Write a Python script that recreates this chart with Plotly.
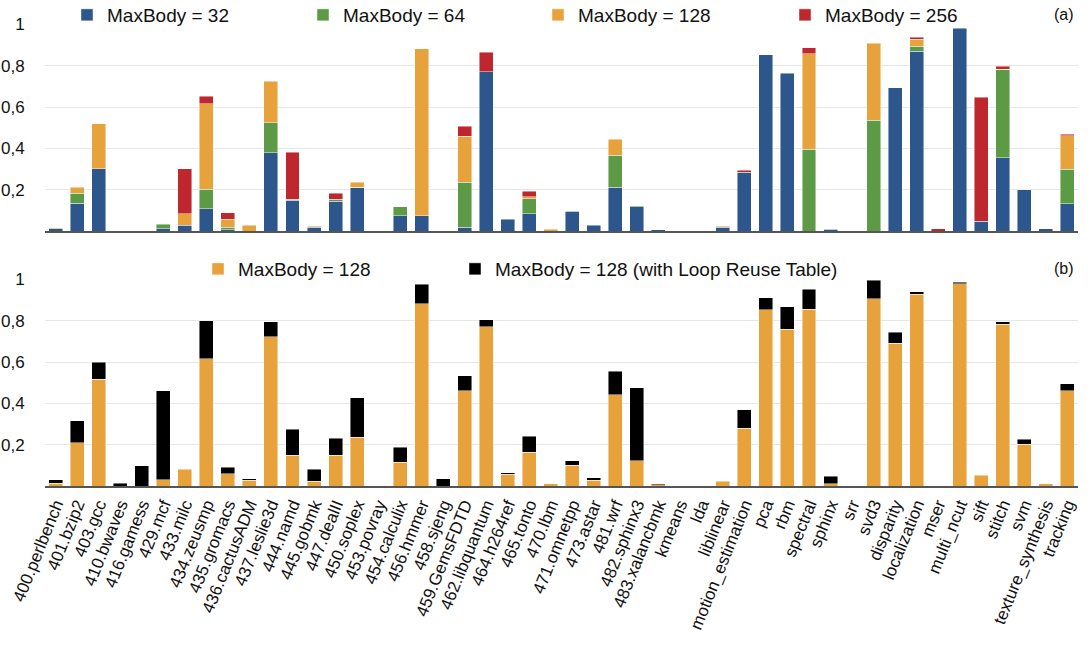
import plotly.graph_objects as go

categories = ["400.perlbench","401.bzip2","403.gcc","410.bwaves","416.gamess","429.mcf","433.milc",
              "434.zeusmp","435.gromacs","436.cactusADM","437.leslie3d","444.namd","445.gobmk",
              "447.dealII","450.soplex","453.povray","454.calculix","456.hmmer","458.sjeng",
              "459.GemsFDTD","462.libquantum","464.h264ref","465.tonto","470.lbm","471.omnetpp",
              "473.astar","481.wrf","482.sphinx3","483.xalancbmk","kmeans","lda","liblinear",
              "motion_estimation","pca","rbm","spectral","sphinx","srr","svd3","disparity",
              "localization","mser","multi_ncut","sift","stitch","svm","texture_synthesis","tracking"]

# Panel (a): stacked increments
maxbody_32 = [0.010,0.135,0.301,0,0,0.010,0.027,0.108,0.005,0,0.378,0.150,0.019,0.145,0.209,0,
              0.074,0.074,0,0.019,0.771,0.058,0.084,0,0.095,0.027,0.213,0.118,0.006,0,0,0.018,
              0.285,0.853,0.763,0,0.008,0,0,0.694,0.870,0,0.981,0.048,0.354,0.200,0.010,0.132]
maxbody_64 = [0,0.047,0,0,0,0.022,0,0.095,0.014,0,0.145,0.003,0,0.008,0.004,0,
              0.044,0,0,0.218,0,0,0.072,0,0.003,0,0.153,0.004,0,0,0,0,
              0,0,0,0.396,0,0,0.536,0,0.025,0,0,0,0.427,0,0,0.168]
maxbody_128 = [0.005,0.029,0.218,0,0,0,0.057,0.414,0.039,0.027,0.202,0,0.005,0,0.023,0,
               0,0.808,0,0.222,0,0,0.010,0.008,0,0,0.077,0,0,0,0,0.006,
               0,0,0,0.461,0.003,0,0.372,0,0.033,0,0,0,0.003,0,0,0.161]
maxbody_256 = [0,0,0,0,0,0,0.217,0.035,0.031,0,0,0.229,0,0.029,0,0,
               0,0,0,0.048,0.094,0,0.027,0,0,0,0,0,0,0,0,0,
               0.010,0,0,0.029,0,0,0,0,0.009,0.011,0,0.599,0.013,0,0,0.008]

# Panel (b)
b_maxbody_128 = [0.013,0.209,0.517,0,0,0.031,0.082,0.615,0.060,0.027,0.723,0.150,0.023,0.150,0.237,0,
                 0.116,0.882,0,0.462,0.770,0.056,0.164,0.010,0.100,0.027,0.441,0.122,0.006,0,0,0.023,
                 0.279,0.852,0.758,0.855,0.011,0,0.907,0.692,0.929,0,0.979,0.053,0.783,0.201,0.010,0.462]
b_loop_reuse_extra = [0.018,0.108,0.082,0.013,0.098,0.431,0,0.185,0.030,0.008,0.072,0.124,0.059,0.082,0.191,0,
                      0.072,0.094,0.035,0.072,0.034,0.008,0.076,0,0.022,0.012,0.115,0.353,0.004,0,0,0,
                      0.090,0.059,0.110,0.098,0.036,0,0.090,0.052,0.011,0,0.007,0,0.012,0.026,0,0.034]

y_tickvals = [0.2, 0.4, 0.6, 0.8, 1.0]
y_ticktext = ["0,2", "0,4", "0,6", "0,8", "1"]

BLUE = "#2D568C"
GREEN = "#5C9A45"
ORANGE = "#E8A23C"
RED = "#BE272D"
BLACK = "#000000"
TEXT = "#111111"
FONT = "Liberation Sans, Arial, Helvetica, sans-serif"
W, H = 1088, 648


def px(x):
    return x / W


def py(y):
    return 1 - y / H


def nz(v):
    return [x if x > 0 else None for x in v]


fig = go.Figure()
line = dict(width=0.6, color="rgba(255,255,255,0.75)")
panel_a = [("MaxBody = 32", maxbody_32, BLUE, "legend", 87),
           ("MaxBody = 64", maxbody_64, GREEN, "legend2", 323),
           ("MaxBody = 128", maxbody_128, ORANGE, "legend3", 558),
           ("MaxBody = 256", maxbody_256, RED, "legend4", 805)]
panel_b = [("MaxBody = 128", b_maxbody_128, ORANGE, "legend5", 218),
           ("MaxBody = 128 (with Loop Reuse Table)", b_loop_reuse_extra, BLACK, "legend6", 475)]

legends = {}
for name, vals, col, leg, cx in panel_a:
    fig.add_trace(go.Bar(x=categories, y=nz(vals), name=name, marker=dict(color=col, line=line),
                         xaxis="x", yaxis="y", legend=leg, showlegend=True))
    legends[leg] = (cx, 15)
for name, vals, col, leg, cx in panel_b:
    fig.add_trace(go.Bar(x=categories, y=nz(vals), name=name, marker=dict(color=col, line=line),
                         xaxis="x2", yaxis="y2", legend=leg, showlegend=True))
    legends[leg] = (cx, 269)

x_dom = [px(45), px(1078)]
ya_dom = [py(231), py(24)]
yb_dom = [py(486), py(279)]

common_y = dict(range=[0, 1.002], tickvals=y_tickvals, ticktext=y_ticktext, showgrid=True,
                gridcolor="#E6E6E6", gridwidth=1, zeroline=False, showline=False,
                tickfont=dict(family=FONT, size=17, color=TEXT), ticks="outside",
                ticklen=16, tickcolor="rgba(0,0,0,0)", fixedrange=True, automargin=False)
common_x = dict(type="category", categoryorder="array", categoryarray=categories,
                range=[-0.5, len(categories) - 0.5], showline=True, linecolor="#555",
                linewidth=2, showgrid=False, zeroline=False, ticks="", fixedrange=True,
                automargin=False)

layout_legends = {}
for leg, (cx, cy) in legends.items():
    layout_legends[leg] = dict(orientation="h", x=px(cx - 20), xanchor="left",
                               y=py(cy), yanchor="middle",
                               font=dict(family=FONT, size=19, color=TEXT),
                               bgcolor="rgba(0,0,0,0)", borderwidth=0)

fig.update_layout(
    width=W, height=H,
    showlegend=True,
    margin=dict(l=0, r=0, t=0, b=0, autoexpand=False),
    paper_bgcolor="white", plot_bgcolor="white",
    barmode="stack", bargap=0.35,
    font=dict(family=FONT, color=TEXT),
    xaxis=dict(domain=x_dom, anchor="y", showticklabels=False, **common_x),
    yaxis=dict(domain=ya_dom, anchor="x", **common_y),
    xaxis2=dict(domain=x_dom, anchor="y2", showticklabels=True, tickangle=-68,
                tickfont=dict(family=FONT, size=17, color=TEXT), **common_x),
    yaxis2=dict(domain=yb_dom, anchor="x2", **common_y),
    annotations=[
        dict(text="(a)", x=px(1076), y=py(15), xref="paper", yref="paper", xanchor="right",
             yanchor="middle", showarrow=False, font=dict(family=FONT, size=16, color=TEXT)),
        dict(text="(b)", x=px(1076), y=py(268), xref="paper", yref="paper", xanchor="right",
             yanchor="middle", showarrow=False, font=dict(family=FONT, size=16, color=TEXT)),
    ],
    **layout_legends,
)

fig.write_html("out.html",
               config={"displayModeBar": False, "staticPlot": False},
               post_script="document.body.style.margin='0';document.body.style.padding='0';"
                           "document.body.style.overflow='hidden';")
